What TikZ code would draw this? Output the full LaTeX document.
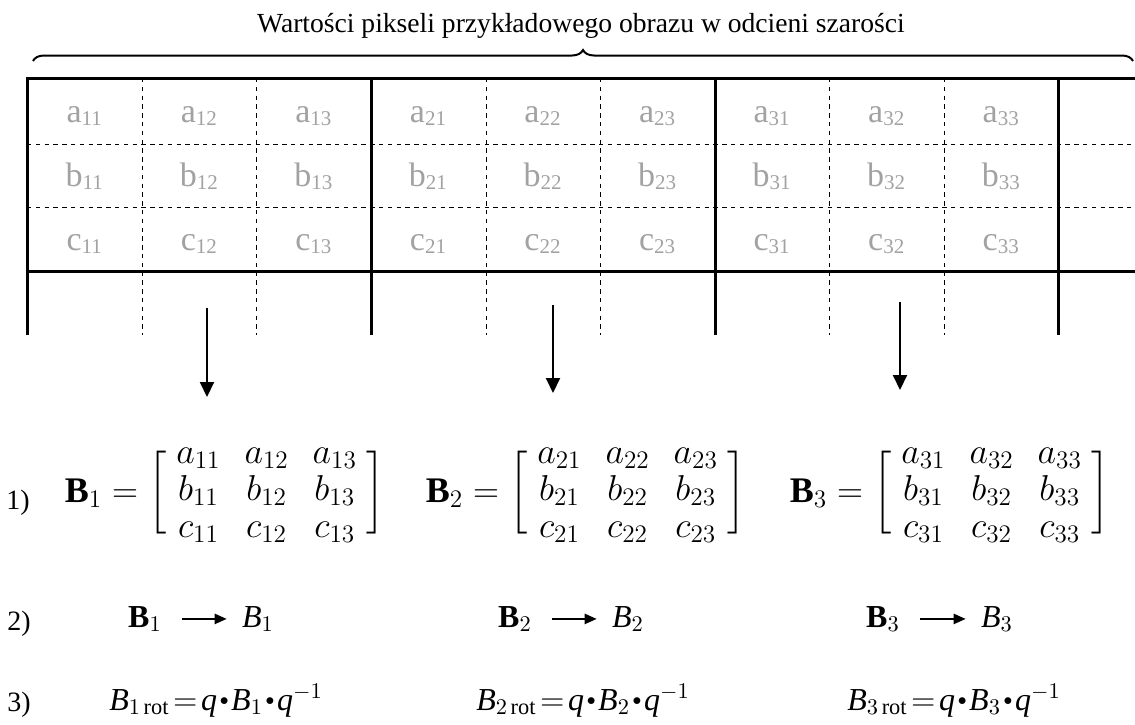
\RequirePackage{fix-cm}
\documentclass[tikz,border=0pt]{standalone}
\usepackage{amsmath}
\usepackage{fontspec}
\setmainfont{Liberation Serif}
\usetikzlibrary{arrows.meta, positioning, decorations.pathreplacing}

\definecolor{ink}{HTML}{000000}
\definecolor{pixelgray}{HTML}{A2A2A2}

\setlength{\arraycolsep}{6pt}
\newcommand\pxl[2]{#1\raisebox{-1.6pt}{\fontsize{10.5}{11}\selectfont #2}}
\newcommand\mdot{\mathbin{\vcenter{\hbox{\scalebox{0.55}{$\bullet$}}}}}
\newcommand\blk[1]{\left[\vcenter{\hbox{\rule{0pt}{44pt}}}\mkern5mu
  \smash{\begin{matrix}#1\end{matrix}}\mkern5mu\right]}
\newcommand\roteq[1]{$\thickmuskip=2mu\relax\medmuskip=1.5mu\relax
  \mathit{B}_{#1\,\mathrm{rot}}=\mathit{q}\mdot\mathit{B}_{#1}\mdot\mathit{q}^{-1}$}

\tikzset{
  gridheavy/.style={draw=ink, line width=1.5pt},
  griddash/.style={draw=ink, line width=0.5pt, dash pattern=on 2.2pt off 2.2pt},
  %
  pixeltxt/.style={text=pixelgray, font=\fontsize{17}{17}\selectfont,
                   inner sep=0pt, anchor=base},
  titletxt/.style={font=\fontsize{13.8}{16}\selectfont, inner sep=0pt, anchor=base},
  steplbl/.style={font=\fontsize{14}{16}\selectfont, inner sep=0pt, anchor=base},
  blockeq/.style={font=\fontsize{18}{18.5}\selectfont, inner sep=0pt},
  rowtxt/.style={font=\fontsize{16}{18}\selectfont, inner sep=0pt, anchor=base},
  %
  splitarrow/.style={draw=ink, line width=1pt, -{Triangle[length=7.5pt, width=7pt]}},
  maparrow/.style={draw=ink, line width=1.1pt, -{Triangle[length=6pt, width=5pt]}},
  topbrace/.style={draw=ink, line width=1pt, decorate,
                   decoration={brace, amplitude=5.5pt}},
}

\begin{document}
\begin{tikzpicture}[x=0.5pt, y=-0.5pt]
\useasboundingbox (0,0) rectangle (1135,724);

% =========================================================================
% TOP: grey image and its pixel grid
% =========================================================================
\node[titletxt] (title) at (581,32)
  {Wartości pikseli przykładowego obrazu w odcieni szarości};
\coordinate (braceL) at (33,61);
\coordinate (braceR) at (1133,61);
\draw[topbrace] (braceL) -- (braceR);

\foreach \xx in {142,256,486,600,829,944}
  \draw[griddash] (\xx,78) -- (\xx,335);
\draw[griddash] (27,144) -- (1135,144);
\draw[griddash] (27,207) -- (1135,207);
\draw[gridheavy] (27,335) |- (1135,78);
\foreach \xx in {371,715,1058}
  \draw[gridheavy] (\xx,78) -- (\xx,335);
\draw[gridheavy] (27,271) -- (1135,271);

% pixel values, block by block
\foreach \blk in {1,2,3}
  \foreach \col in {1,2,3}
    \foreach \rowl/\yy in {a/122,b/186,c/250}
      \node[pixeltxt] (p-\rowl\blk\col) at ({27+((\blk-1)*3+\col-0.5)*114.56},\yy)
        {\pxl{\rowl}{\blk\col}};

% blocks go down
\foreach \k/\xx/\ya/\yb in {1/207/308/397, 2/553/305/393, 3/900/302/390} {
  \coordinate (from\k) at (\xx,\ya);
  \coordinate (to\k) at (\xx,\yb);
  \draw[splitarrow] (from\k) -- (to\k);
}

% =========================================================================
% BOTTOM: steps 1) 2) 3)
% =========================================================================
\node[steplbl] (s1) at (18,509) {1)};
\node[steplbl] (s2) at (19,630) {2)};
\node[steplbl] (s3) at (19,711) {3)};

\node[blockeq] (mB1) at (225,493)
  {$\mathbf{B}_1 = \blk{a_{11} & a_{12} & a_{13}\\ b_{11} & b_{12} & b_{13}\\ c_{11} & c_{12} & c_{13}}$};
\node[blockeq] (mB2) at (586,493)
  {$\mathbf{B}_2 = \blk{a_{21} & a_{22} & a_{23}\\ b_{21} & b_{22} & b_{23}\\ c_{21} & c_{22} & c_{23}}$};
\node[blockeq] (mB3) at (950,493)
  {$\mathbf{B}_3 = \blk{a_{31} & a_{32} & a_{33}\\ b_{31} & b_{32} & b_{33}\\ c_{31} & c_{32} & c_{33}}$};

\foreach \k/\xa/\xb in {1/145/258, 2/515/628, 3/883/997} {
  \node[rowtxt] (bB\k) at (\xa,627) {$\mathbf{B}_\k$};
  \node[rowtxt] (iB\k) at (\xb,627) {$\mathit{B}_\k$};
  \draw[maparrow, shorten <=10pt, shorten >=7.5pt] (bB\k) -- (iB\k);
}

\foreach \k/\xx in {1/216, 2/583, 3/954}
  \node[rowtxt] (rot\k) at (\xx,710) {\roteq{\k}};

\end{tikzpicture}
\end{document}
